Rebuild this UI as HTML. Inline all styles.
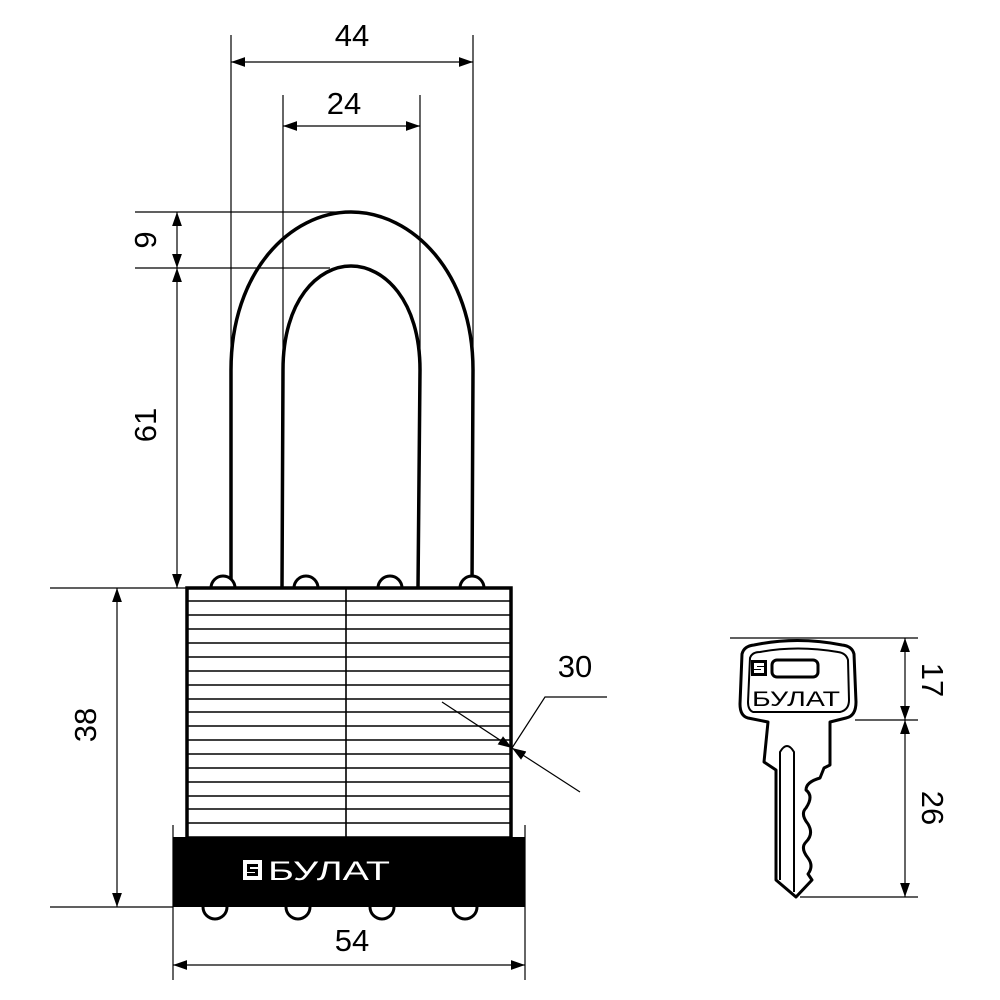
<!DOCTYPE html>
<html><head><meta charset="utf-8"><style>html,body{margin:0;padding:0;background:#fff}svg{display:block}</style></head>
<body>
<svg width="1000" height="1000" viewBox="0 0 1000 1000" xmlns="http://www.w3.org/2000/svg" font-family="Liberation Sans, DejaVu Sans, sans-serif">
<defs>
<marker id="a" viewBox="0 0 10 10" refX="10" refY="5" markerWidth="14" markerHeight="14" markerUnits="userSpaceOnUse" orient="auto-start-reverse"><path d="M0,1.5 L10,5 L0,8.5 Z" fill="#000"/></marker>
</defs>
<g stroke="#000" fill="none" stroke-width="1.2">
<line x1="231" y1="35" x2="231" y2="380"/>
<line x1="473" y1="35" x2="473" y2="380"/>
<line x1="283" y1="95" x2="283" y2="380"/>
<line x1="420" y1="95" x2="420" y2="380"/>
<line x1="135" y1="212" x2="345" y2="212"/>
<line x1="135" y1="268" x2="330" y2="268"/>
<line x1="50" y1="588" x2="187" y2="588"/>
<line x1="50" y1="907" x2="173" y2="907"/>
<line x1="173" y1="825" x2="173" y2="980"/>
<line x1="525" y1="825" x2="525" y2="980"/>
<line x1="231" y1="62" x2="473" y2="62" marker-start="url(#a)" marker-end="url(#a)"/>
<line x1="283" y1="126" x2="420" y2="126" marker-start="url(#a)" marker-end="url(#a)"/>
<line x1="177" y1="212" x2="177" y2="268" marker-start="url(#a)" marker-end="url(#a)"/>
<line x1="177" y1="268" x2="177" y2="588" marker-start="url(#a)" marker-end="url(#a)"/>
<line x1="117" y1="588" x2="117" y2="907" marker-start="url(#a)" marker-end="url(#a)"/>
<line x1="173" y1="965" x2="525" y2="965" marker-start="url(#a)" marker-end="url(#a)"/>
<line x1="730" y1="638" x2="918" y2="638"/>
<line x1="855" y1="720" x2="918" y2="720"/>
<line x1="800" y1="897" x2="918" y2="897"/>
<line x1="905" y1="638" x2="905" y2="720" marker-start="url(#a)" marker-end="url(#a)"/>
<line x1="905" y1="720" x2="905" y2="897" marker-start="url(#a)" marker-end="url(#a)"/>
</g>
<g stroke="#000" fill="none" stroke-width="3.5">
<path d="M231,588 L231,370 C231,272 290,212 351,212 C412,212 473,272 473,370 L472,588"/>
<path d="M282,588 L283,370 C283,300 318,266 351,266 C384,266 420,300 420,370 L418,588"/>
</g>
<g stroke="#000" fill="#fff" stroke-width="3">
<circle cx="223" cy="588" r="12"/><circle cx="306" cy="588" r="12"/><circle cx="390" cy="588" r="12"/><circle cx="472" cy="588" r="12"/>
<circle cx="215" cy="907" r="12"/><circle cx="298" cy="907" r="12"/><circle cx="382" cy="907" r="12"/><circle cx="465" cy="907" r="12"/>
</g>
<rect x="187" y="588" width="324" height="250" fill="#fff" stroke="#000" stroke-width="3.5"/>
<g stroke="#000" stroke-width="1.6">
<line x1="346" y1="588" x2="346" y2="838"/>
<line x1="187" y1="601" x2="511" y2="601"/><line x1="187" y1="615" x2="511" y2="615"/><line x1="187" y1="629" x2="511" y2="629"/><line x1="187" y1="643" x2="511" y2="643"/><line x1="187" y1="657" x2="511" y2="657"/><line x1="187" y1="671" x2="511" y2="671"/><line x1="187" y1="685" x2="511" y2="685"/><line x1="187" y1="699" x2="511" y2="699"/><line x1="187" y1="712" x2="511" y2="712"/><line x1="187" y1="726" x2="511" y2="726"/><line x1="187" y1="740" x2="511" y2="740"/><line x1="187" y1="754" x2="511" y2="754"/><line x1="187" y1="768" x2="511" y2="768"/><line x1="187" y1="782" x2="511" y2="782"/><line x1="187" y1="796" x2="511" y2="796"/><line x1="187" y1="809" x2="511" y2="809"/><line x1="187" y1="823" x2="511" y2="823"/>
</g>
<g stroke="#000" fill="none" stroke-width="1.2">
<line x1="442" y1="702" x2="512" y2="748" marker-end="url(#a)"/>
<line x1="580" y1="792" x2="512" y2="748" marker-end="url(#a)"/>
<polyline points="512,748 545,697 607,697"/>
</g>
<rect x="173" y="837" width="352" height="70" fill="#000"/>
<rect x="243" y="860" width="19" height="20" fill="#fff"/>
<path d="M247,864 h11 v3 h-8 v2 h8 v7 h-11 v-3 h8 v-1 h-8z" fill="#000"/>
<text x="268" y="880" font-size="27" fill="#fff" textLength="122" lengthAdjust="spacingAndGlyphs">БУЛАТ</text>
<g font-size="31" fill="#000" text-anchor="middle">
<text x="352" y="46">44</text>
<text x="344" y="114">24</text>
<text x="352" y="951">54</text>
<text x="575" y="677">30</text>
<text transform="translate(156,240) rotate(-90)">9</text>
<text transform="translate(156,425) rotate(-90)">61</text>
<text transform="translate(96,725) rotate(-90)">38</text>
<text transform="translate(922,680) rotate(90)">17</text>
<text transform="translate(922,808) rotate(90)">26</text>
</g>
<g stroke="#000" fill="#fff" stroke-width="3" stroke-linejoin="round">
<path d="M742,654 Q744,646 754,645 Q797,636 842,645 Q852,646 854,654 L856,702 Q856,716 846,718 L830,722 L830,765 L824,768 L820,778 Q806,782 806,790 Q814,796 806,808 Q800,814 808,824 Q814,834 806,842 Q800,848 808,858 Q814,866 808,874 L812,880 L796,897 L776,880 L776,770 L764,762 L768,722 L748,718 Q740,716 740,704 Z"/>
<path d="M750,658 Q752,652 760,652 Q797,645 838,652 Q846,653 848,660 L849,700 Q849,710 840,712 L753,712 Q748,710 748,702 Z" stroke-width="2"/>
<path d="M780,880 L780,752 Q787,740 794,752 L794,892" stroke-width="2" fill="none"/>
</g>
<rect x="751" y="660" width="16" height="16" fill="#000"/>
<path d="M754,663 h10 v3 h-7 v1 h7 v6 h-10 v-3 h7 v-1 h-7z" fill="#fff"/>
<rect x="772" y="660" width="46" height="17" rx="5" fill="none" stroke="#000" stroke-width="3"/>
<text x="752" y="706" font-size="21" fill="#000" textLength="88" lengthAdjust="spacingAndGlyphs">БУЛАТ</text>
</svg>
</body></html>
